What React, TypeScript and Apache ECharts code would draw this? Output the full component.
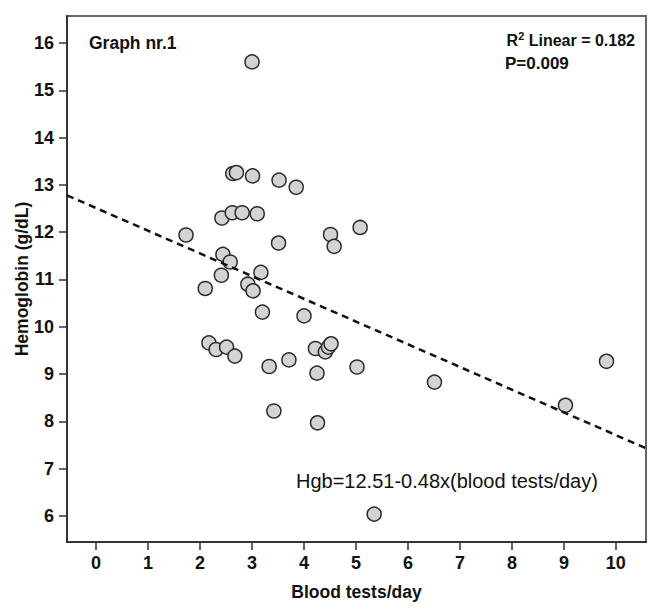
import React, { useEffect, useRef } from "react";
import * as echarts from "echarts";

const bloodTests = [3.0, 2.63, 2.7, 3.01, 3.52, 3.85, 2.42, 2.62, 2.81, 3.1, 1.73, 3.51, 4.51, 4.58, 5.08, 2.44, 2.58, 2.41, 3.17, 2.1, 2.92, 3.02, 3.2, 4.0, 2.17, 2.31, 2.51, 2.67, 3.33, 3.71, 4.22, 4.41, 4.47, 4.52, 4.25, 3.42, 4.26, 5.02, 6.51, 9.03, 9.82, 5.35];
const hemoglobin = [15.6, 13.24, 13.26, 13.19, 13.1, 12.95, 12.3, 12.41, 12.41, 12.39, 11.94, 11.77, 11.95, 11.7, 12.1, 11.53, 11.37, 11.09, 11.15, 10.81, 10.9, 10.76, 10.31, 10.23, 9.66, 9.52, 9.57, 9.38, 9.16, 9.3, 9.54, 9.47, 9.57, 9.64, 9.02, 8.22, 7.97, 9.15, 8.83, 8.34, 9.27, 6.04];
const xTicks = [0, 1, 2, 3, 4, 5, 6, 7, 8, 9, 10];
const yTicks = [6, 7, 8, 9, 10, 11, 12, 13, 14, 15, 16];
const xRange = [-0.56, 10.58];
const yRange = [5.45, 16.57];
const intercept = 12.51;
const slope = -0.48;

export default function App() {
  const ref = useRef<HTMLDivElement>(null);
  useEffect(() => {
    if (!ref.current) return;
    const chart = echarts.init(ref.current, undefined, { renderer: "svg" });
    const font = "'Liberation Sans', Arial, sans-serif";
    const narrow = "'Liberation Sans Narrow', 'Arial Narrow', 'Liberation Sans', sans-serif";
    const fit = xRange.map((x) => [x, intercept + slope * x]);
    chart.setOption({
      animation: false,
      backgroundColor: "#fff",
      grid: {
        left: 67,
        top: 16,
        right: 16,
        bottom: 74,
        containLabel: false,
        outerBoundsMode: "none",
        show: true,
        borderColor: "#666",
        borderWidth: 2,
        backgroundColor: "transparent",
      },
      xAxis: {
        type: "value",
        min: xRange[0],
        max: xRange[1],
        name: "Blood tests/day",
        nameLocation: "middle",
        nameGap: 41,
        nameMoveOverlap: false,
        nameTextStyle: { fontFamily: font, fontWeight: "bold", fontSize: 17.5, color: "#111", verticalAlign: "top" },
        splitLine: { show: false },
        axisLine: { onZero: false, lineStyle: { color: "#333", width: 2 } },
        axisTick: { show: true, length: 8, lineStyle: { color: "#333", width: 1.5 }, customValues: xTicks },
        axisLabel: { fontFamily: narrow, fontWeight: "bold", fontSize: 18, color: "#111", margin: 12, customValues: xTicks },
      },
      yAxis: {
        type: "value",
        min: yRange[0],
        max: yRange[1],
        name: "Hemoglobin (g/dL)",
        nameLocation: "middle",
        nameGap: 36,
        nameMoveOverlap: false,
        nameTextStyle: { fontFamily: font, fontWeight: "bold", fontSize: 17.5, color: "#111" },
        splitLine: { show: false },
        axisLine: { show: true, onZero: false, lineStyle: { color: "#333", width: 2 } },
        axisTick: { show: true, length: 8, lineStyle: { color: "#333", width: 1.5 }, customValues: yTicks },
        axisLabel: { fontFamily: narrow, fontWeight: "bold", fontSize: 18, color: "#111", margin: 13, customValues: yTicks },
      },
      series: [
        {
          type: "scatter",
          data: bloodTests.map((x, i) => [x, hemoglobin[i]]),
          symbol: "circle",
          symbolSize: 14,
          itemStyle: { color: "#d3d3d3", borderColor: "#2a2a2a", borderWidth: 1.5, opacity: 1 },
          z: 2,
        },
        {
          type: "line",
          data: fit,
          symbol: "none",
          lineStyle: { color: "#111", width: 2.5, type: [7, 5] },
          z: 3,
        },
      ],
      graphic: [
        {
          type: "text",
          x: 89,
          y: 43,
          style: { text: "Graph nr.1", font: `bold 17.5px ${font}`, fill: "#111", textVerticalAlign: "middle" },
        },
        {
          type: "text",
          x: 635,
          y: 40,
          style: {
            text: "R{sup|2} Linear = 0.182",
            font: `bold 16px ${font}`,
            fill: "#111",
            textAlign: "right",
            textVerticalAlign: "middle",
            rich: { sup: { fontSize: 11, fontWeight: "bold", fontFamily: font, verticalAlign: "top", padding: [0, 0, 8, 0] } },
          },
        },
        {
          type: "text",
          x: 505,
          y: 63,
          style: { text: "P=0.009", font: `bold 17px ${font}`, fill: "#111", textVerticalAlign: "middle" },
        },
        {
          type: "text",
          x: 296,
          y: 481,
          style: { text: "Hgb=12.51-0.48x(blood tests/day)", font: `20px ${font}`, fill: "#111", textVerticalAlign: "middle" },
        },
      ],
    });
    return () => chart.dispose();
  }, []);
  return <div ref={ref} style={{ position: "absolute", left: 0, top: 0, width: 662, height: 616 }} />;
}
